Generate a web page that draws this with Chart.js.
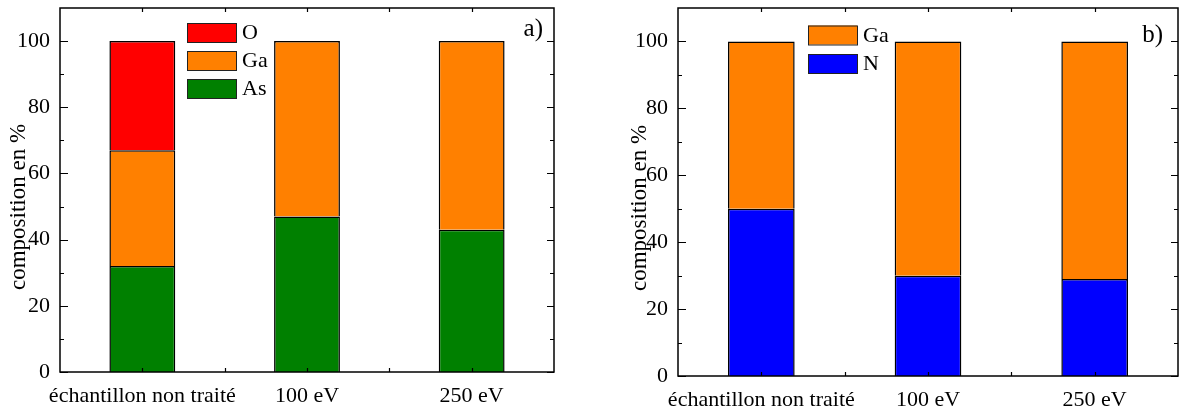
<!DOCTYPE html>
<html>
<head>
<meta charset="utf-8">
<script src="https://cdn.jsdelivr.net/npm/chart.js@4.4.0/dist/chart.umd.min.js"></script>
<style>
  html, body { margin: 0; padding: 0; background: #fff; }
  .panel { position: absolute; top: 0; width: 590px; height: 408px; }
  #pa { left: 0; }
  #pb { left: 590px; }
</style>
</head>
<body>
<div class="panel" id="pa"><canvas id="chartA" width="590" height="408"></canvas></div>
<div class="panel" id="pb"><canvas id="chartB" width="590" height="408"></canvas></div>
<script>
const categories = ['échantillon non traité', '100 eV', '250 eV'];

// panel a
const asValues = [32, 47, 43];
const gaValuesA = [35, 53, 57];
const oValues = [33, 0, 0];

// panel b
const nValues = [50, 30, 29];
const gaValuesB = [50, 70, 71];

const yTicks = [0, 20, 40, 60, 80, 100];
const yMinorTicks = [10, 30, 50, 70, 90];

const FONT = '"Liberation Serif", "Times New Roman", serif';

// frame, inward ticks, legend, axis title and panel letter
const framePlugin = {
    id: 'frame',
    afterDraw(chart, args, opts) {
        const ctx = chart.ctx;
        const a = chart.chartArea;
        const xs = chart.scales.x;
        const ys = chart.scales.y;
        ctx.save();
        ctx.strokeStyle = '#000';
        ctx.lineWidth = 1.5;
        ctx.strokeRect(a.left, a.top, a.right - a.left, a.bottom - a.top);

        ctx.lineWidth = 1.2;
        ctx.beginPath();
        yTicks.forEach(v => {
            const y = Math.round(ys.getPixelForValue(v)) + 0.5;
            ctx.moveTo(a.left, y); ctx.lineTo(a.left + 8, y);
            ctx.moveTo(a.right, y); ctx.lineTo(a.right - 7, y);
        });
        yMinorTicks.forEach(v => {
            const y = Math.round(ys.getPixelForValue(v)) + 0.5;
            ctx.moveTo(a.left, y); ctx.lineTo(a.left + 4, y);
            ctx.moveTo(a.right, y); ctx.lineTo(a.right - 4, y);
        });
        const n = chart.data.labels.length;
        const xpos = [];
        for (let i = 0; i < n; i++) {
            xpos.push(xs.getPixelForValue(i));
            if (i < n - 1) xpos.push((xs.getPixelForValue(i) + xs.getPixelForValue(i + 1)) / 2);
        }
        xpos.forEach(x => {
            x = Math.round(x) + 0.5;
            ctx.moveTo(x, a.bottom); ctx.lineTo(x, a.bottom - 4);
            ctx.moveTo(x, a.top); ctx.lineTo(x, a.top + 4);
        });
        ctx.stroke();

        // legend (top of stack first)
        ctx.font = '22px ' + FONT;
        ctx.textBaseline = 'middle';
        ctx.textAlign = 'left';
        const ds = chart.data.datasets.slice().reverse();
        ds.forEach((d, i) => {
            const y = opts.legendY + i * opts.legendStep;
            ctx.fillStyle = d.backgroundColor;
            ctx.fillRect(opts.legendX, y - 9.5, 49, 19);
            ctx.lineWidth = 1;
            ctx.strokeStyle = '#222';
            ctx.strokeRect(opts.legendX + 0.5, y - 9, 49, 19);
            ctx.fillStyle = '#000';
            ctx.fillText(d.label, opts.legendX + 55, y + 1);
        });

        // panel letter
        ctx.font = '25px ' + FONT;
        ctx.textBaseline = 'alphabetic';
        ctx.textAlign = 'right';
        ctx.fillText(opts.letter, a.right - opts.letterDx, opts.letterY);

        // y title
        ctx.font = '23px ' + FONT;
        ctx.textAlign = 'center';
        ctx.textBaseline = 'middle';
        ctx.translate(opts.titleX, opts.titleY);
        ctx.rotate(-Math.PI / 2);
        ctx.fillText('composition en %', 0, 0);
        ctx.restore();
    }
};

function makeChart(id, datasets, cfg) {
    return new Chart(document.getElementById(id), {
        type: 'bar',
        data: { labels: categories, datasets: datasets },
        plugins: [framePlugin],
        options: {
            responsive: false,
            animation: false,
            devicePixelRatio: 1,
            layout: { padding: { top: 8, right: cfg.padRight, left: 0, bottom: 0 } },
            datasets: { bar: { barPercentage: 0.4, categoryPercentage: 1.0, borderWidth: 1.5, borderColor: '#000' } },
            plugins: {
                legend: { display: false },
                tooltip: { enabled: false },
                frame: cfg.frame
            },
            scales: {
                x: {
                    stacked: true,
                    offset: true,
                    grid: { display: false },
                    border: { display: false },
                    ticks: { color: '#000', font: { family: FONT, size: 22 }, padding: 3, maxRotation: 0, autoSkip: false },
                    afterFit(s) { s.height = cfg.xHeight; s.paddingLeft = 0; s.paddingRight = 0; }
                },
                y: {
                    stacked: true,
                    min: 0,
                    max: 110,
                    grid: { display: false, drawTicks: false },
                    border: { display: false },
                    ticks: { color: '#000', font: { family: FONT, size: 22 }, padding: 10 },
                    afterBuildTicks(s) { s.ticks = yTicks.map(v => ({ value: v })); },
                    afterFit(s) { s.width = cfg.yWidth; s.paddingTop = 0; s.paddingBottom = 0; }
                }
            }
        }
    });
}

makeChart('chartA', [
    { label: 'As', data: asValues, backgroundColor: '#008000' },
    { label: 'Ga', data: gaValuesA, backgroundColor: '#ff8000' },
    { label: 'O', data: oValues, backgroundColor: '#ff0000' }
], {
    padRight: 36, xHeight: 36, yWidth: 60,
    frame: { legendX: 187, legendY: 32.5, legendStep: 28, letter: 'a)', letterDx: 11, letterY: 36, titleX: 19, titleY: 207 }
});

makeChart('chartB', [
    { label: 'N', data: nValues, backgroundColor: '#0000ff' },
    { label: 'Ga', data: gaValuesB, backgroundColor: '#ff8000' }
], {
    padRight: 2, xHeight: 32, yWidth: 88,
    frame: { legendX: 218, legendY: 35, legendStep: 28.5, letter: 'b)', letterDx: 15, letterY: 42, titleX: 50, titleY: 208 }
});
</script>
</body>
</html>
